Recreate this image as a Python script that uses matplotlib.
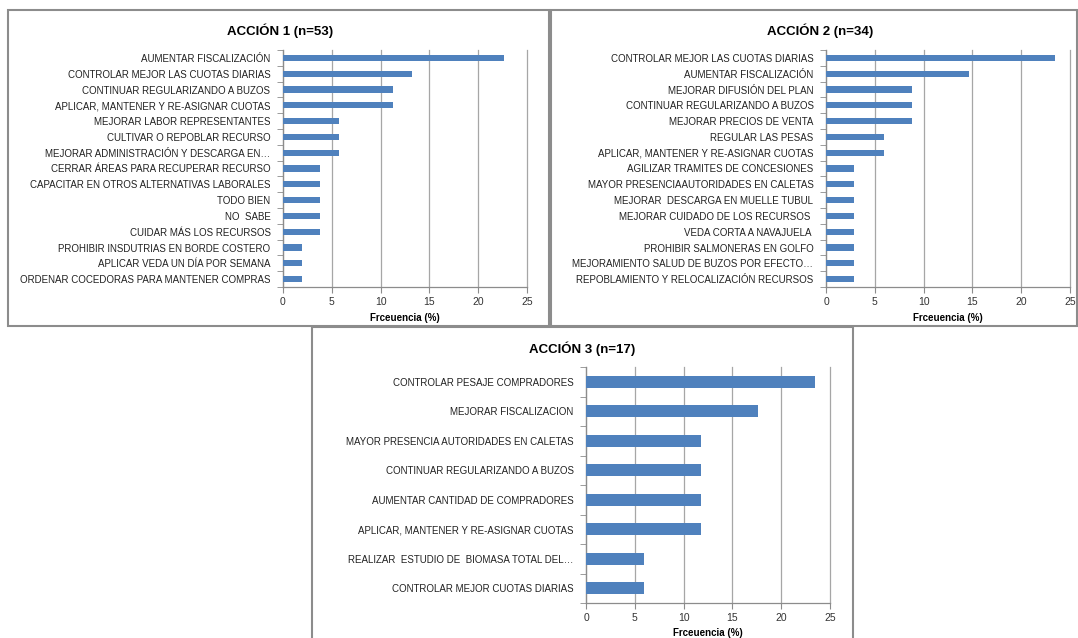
import matplotlib
matplotlib.use("Agg")
import matplotlib.pyplot as plt
from matplotlib.patches import Rectangle
import numpy as np

W, H = 1078, 638

labels_1 = [
    "AUMENTAR FISCALIZACIÓN",
    "CONTROLAR MEJOR LAS CUOTAS DIARIAS",
    "CONTINUAR REGULARIZANDO A BUZOS",
    "APLICAR, MANTENER Y RE-ASIGNAR CUOTAS",
    "MEJORAR LABOR REPRESENTANTES",
    "CULTIVAR O REPOBLAR RECURSO",
    "MEJORAR ADMINISTRACIÓN Y DESCARGA EN…",
    "CERRAR ÁREAS PARA RECUPERAR RECURSO",
    "CAPACITAR EN OTROS ALTERNATIVAS LABORALES",
    "TODO BIEN",
    "NO  SABE",
    "CUIDAR MÁS LOS RECURSOS",
    "PROHIBIR INSDUTRIAS EN BORDE COSTERO",
    "APLICAR VEDA UN DÍA POR SEMANA",
    "ORDENAR COCEDORAS PARA MANTENER COMPRAS",
]
values_1 = [22.6, 13.2, 11.3, 11.3, 5.7, 5.7, 5.7, 3.8, 3.8, 3.8, 3.8, 3.8, 1.9, 1.9, 1.9]

labels_2 = [
    "CONTROLAR MEJOR LAS CUOTAS DIARIAS",
    "AUMENTAR FISCALIZACIÓN",
    "MEJORAR DIFUSIÓN DEL PLAN",
    "CONTINUAR REGULARIZANDO A BUZOS",
    "MEJORAR PRECIOS DE VENTA",
    "REGULAR LAS PESAS",
    "APLICAR, MANTENER Y RE-ASIGNAR CUOTAS",
    "AGILIZAR TRAMITES DE CONCESIONES",
    "MAYOR PRESENCIAAUTORIDADES EN CALETAS",
    "MEJORAR  DESCARGA EN MUELLE TUBUL",
    "MEJORAR CUIDADO DE LOS RECURSOS ",
    "VEDA CORTA A NAVAJUELA ",
    "PROHIBIR SALMONERAS EN GOLFO",
    "MEJORAMIENTO SALUD DE BUZOS POR EFECTO…",
    "REPOBLAMIENTO Y RELOCALIZACIÓN RECURSOS",
]
values_2 = [23.5, 14.7, 8.8, 8.8, 8.8, 5.9, 5.9, 2.9, 2.9, 2.9, 2.9, 2.9, 2.9, 2.9, 2.9]

labels_3 = [
    "CONTROLAR PESAJE COMPRADORES",
    "MEJORAR FISCALIZACION",
    "MAYOR PRESENCIA AUTORIDADES EN CALETAS",
    "CONTINUAR REGULARIZANDO A BUZOS",
    "AUMENTAR CANTIDAD DE COMPRADORES",
    "APLICAR, MANTENER Y RE-ASIGNAR CUOTAS",
    "REALIZAR  ESTUDIO DE  BIOMASA TOTAL DEL…",
    "CONTROLAR MEJOR CUOTAS DIARIAS",
]
values_3 = [23.5, 17.6, 11.8, 11.8, 11.8, 11.8, 5.9, 5.9]

titles = ["ACCIÓN 1 (n=53)", "ACCIÓN 2 (n=34)", "ACCIÓN 3 (n=17)"]

plt.rcParams["font.family"] = ["Liberation Sans", "DejaVu Sans"]

fig = plt.figure(figsize=(W / 100, H / 100), dpi=100)
fig.patch.set_facecolor("white")


def px_rect(x0, y0, x1, y1):
    return [x0 / W, 1 - y1 / H, (x1 - x0) / W, (y1 - y0) / H]


def frame(x0, y0, x1, y1):
    fig.patches.append(Rectangle((x0 / W, 1 - y1 / H), (x1 - x0) / W, (y1 - y0) / H,
                                 transform=fig.transFigure, fill=False,
                                 edgecolor="#8c8c8c", linewidth=1.5))


def panel(rect, labels, values, title, title_xy, xlabel_y):
    ax = fig.add_axes(px_rect(*rect))
    n = len(labels)
    y = np.arange(n)
    ax.barh(y, values, height=0.4, color="#4F81BD", zorder=3)
    ax.set_xlim(0, 25)
    ax.set_ylim(n - 0.5, -0.5)
    ax.set_xticks([0, 5, 10, 15, 20, 25])
    ax.set_yticks(y)
    ax.set_yticklabels(labels, fontsize=7, color="#222222")
    ax.set_yticks(np.arange(n + 1) - 0.5, minor=True)
    ax.tick_params(axis="y", which="major", length=0, pad=9)
    ax.tick_params(axis="y", which="minor", length=4, color="#8c8c8c", direction="out")
    ax.tick_params(axis="x", length=4, color="#8c8c8c", labelsize=7.5, labelcolor="#333333", pad=3)
    ax.grid(axis="x", color="#a6a6a6", linewidth=0.9, zorder=0)
    for gl in ax.get_xgridlines():
        gl.set_clip_on(False)
    for s in ["top", "right"]:
        ax.spines[s].set_visible(False)
    for s in ["left", "bottom"]:
        ax.spines[s].set_color("#8c8c8c")
        ax.spines[s].set_linewidth(0.9)
    fig.text(title_xy[0] / W, 1 - title_xy[1] / H, title, ha="center", va="center",
             fontsize=9.5, fontweight="bold")
    cx = (rect[0] + rect[2]) / 2
    fig.text(cx / W, 1 - xlabel_y / H, "Frceuencia (%)", ha="center", va="center",
             fontsize=7, fontweight="bold")
    return ax


frame(8, 10, 549, 326)
frame(551, 10, 1077, 326)
frame(312, 327, 853, 640)

panel((283, 50, 527, 287), labels_1, values_1, titles[0], (280, 31), 318)
panel((826, 50, 1070, 287), labels_2, values_2, titles[1], (820, 31), 318)
panel((586, 367, 830, 603), labels_3, values_3, titles[2], (582, 349), 633)

fig.savefig("out.png", dpi=100)
